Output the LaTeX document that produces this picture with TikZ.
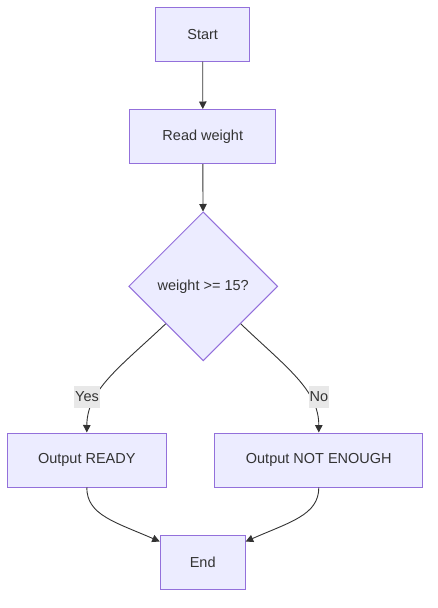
\documentclass[tikz,border=0pt]{standalone}
\usepackage{fontspec}
\setmainfont{Liberation Sans}
\usetikzlibrary{shapes.geometric,arrows.meta}
\definecolor{nodefill}{HTML}{ECECFF}
\definecolor{nodeborder}{HTML}{9370DB}
\definecolor{edgecol}{HTML}{333333}
\definecolor{labelbg}{HTML}{E8E8E8}
\tikzset{
  box/.style={draw=nodeborder, fill=nodefill, line width=1pt, minimum height=54pt, inner sep=0pt, text=edgecol, font=\fontsize{14.5}{16}\selectfont},
  decision/.style={diamond, aspect=1, draw=nodeborder, fill=nodefill, line width=1pt, minimum width=149pt, minimum height=149pt, inner sep=0pt, text=edgecol, font=\fontsize{14.5}{16}\selectfont},
  edge/.style={draw=edgecol, line width=0.9pt, -{Triangle[length=7.5pt,width=7.5pt]}},
  elabel/.style={fill=labelbg, text=edgecol, inner sep=1pt, minimum height=22pt, font=\fontsize{14.5}{16}\selectfont},
}
\begin{document}
\begin{tikzpicture}[x=1pt,y=-1pt]
\useasboundingbox (0,0) rectangle (438,608);
\node[box, minimum width=94pt] (start) at (202.7,34.2) {Start};
\node[box, minimum width=146pt] (read) at (202.8,136.5) {Read weight};
\node[decision] (dec) at (203.2,286.3) {weight >= 15?};
\node[box, minimum width=159pt] (ready) at (86.8,460) {Output READY};
\node[box, minimum width=208pt] (notenough) at (318.8,460) {Output NOT ENOUGH};
\node[box, minimum width=85pt] (end) at (202.7,562) {End};
\draw[edge] (start) -- (read);
\draw[edge] (read) -- (dec);
\draw[edge] (dec.south west) .. controls (120,367) and (87,390) .. (ready.north);
\draw[edge] (dec.south east) .. controls (286,367) and (318.8,390) .. (notenough.north);
\draw[edge] (ready.south) .. controls (86.8,515) and (115,522) .. ([yshift=-7pt]end.north west);
\draw[edge] (notenough.south) .. controls (318.8,515) and (290,522) .. ([yshift=-7pt]end.north east);
\node[elabel] (yes) at (87,397) {Yes};
\node[elabel] (no) at (318.8,397) {No};
\end{tikzpicture}
\end{document}
